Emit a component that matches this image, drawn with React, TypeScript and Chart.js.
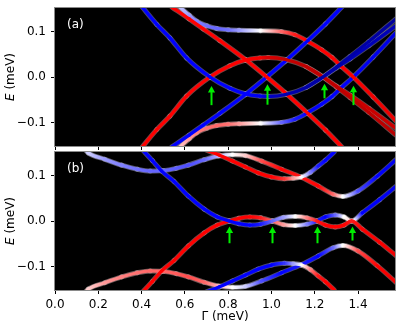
import React, { useEffect, useRef } from 'react';
import { Chart, registerables } from 'chart.js';

Chart.register(...registerables);

const FONT = "'DejaVu Sans', 'Liberation Sans', sans-serif";

// ---- axes ----
const X_RANGE = [0, 1.5708];
const E_RANGE = [-0.152, 0.152];
const xTickValues = [0, 0.2, 0.4, 0.6, 0.8, 1.0, 1.2, 1.4];
const eTickValues = [-0.1, 0.0, 0.1];

// ---- panel (a): values (x = Γ in meV, E in meV, c = polarisation -1 blue .. +1 red) ----
const aBlueArc_x = [0.40, 0.47, 0.531, 0.608, 0.716, 0.808, 0.878, 0.947, 0.985, 1.07, 1.16, 1.238, 1.30, 1.363, 1.45, 1.575];
const aBlueArc_E = [0.156, 0.116, 0.086, 0.042, 0.0, -0.025, -0.037, -0.042, -0.043, -0.038, -0.023, 0.0, 0.022, 0.045, 0.078, 0.128];
const aBlueArc_c = [-0.5, -0.5, -0.5, -0.5, -0.5, -0.5, -0.5, -0.55, -0.65, -0.72, -0.75, -0.75, -0.75, -0.75, -0.75, -0.78];

const aBlueTwin_x = [1.16, 1.238, 1.30, 1.363, 1.45, 1.575];
const aBlueTwin_E = [-0.023, 0.0, 0.020, 0.040, 0.069, 0.113];
const aBlueTwin_c = [-0.75, -0.75, -0.72, -0.7, -0.7, -0.7];

const aRedArc_x = [0.40, 0.47, 0.531, 0.608, 0.716, 0.808, 0.878, 0.947, 0.985, 1.07, 1.16, 1.238, 1.30, 1.363, 1.45, 1.575];
const aRedArc_E = [-0.156, -0.116, -0.086, -0.042, 0.0, 0.025, 0.037, 0.042, 0.043, 0.038, 0.023, 0.0, -0.022, -0.045, -0.078, -0.128];
const aRedArc_c = [0.5, 0.5, 0.5, 0.5, 0.5, 0.5, 0.5, 0.55, 0.65, 0.72, 0.75, 0.75, 0.75, 0.75, 0.75, 0.78];

const aRedTwin_x = [1.16, 1.238, 1.30, 1.363, 1.45, 1.575];
const aRedTwin_E = [0.023, 0.0, -0.020, -0.040, -0.069, -0.113];
const aRedTwin_c = [0.75, 0.75, 0.72, 0.7, 0.7, 0.7];

const aRedLine_x = [0.54, 0.62, 0.685, 0.762, 0.878, 0.978, 1.062, 1.17, 1.25, 1.325];
const aRedLine_E = [0.154, 0.128, 0.106, 0.080, 0.039, 0.0, -0.034, -0.081, -0.117, -0.154];
const aRedLine_c = [0.5, 0.5, 0.5, 0.5, 0.5, 0.5, 0.5, 0.5, 0.5, 0.5];

const aBlueLine_x = [0.54, 0.62, 0.685, 0.762, 0.878, 0.978, 1.062, 1.17, 1.25, 1.325];
const aBlueLine_E = [-0.154, -0.128, -0.106, -0.080, -0.039, 0.0, 0.034, 0.081, 0.117, 0.154];
const aBlueLine_c = [-0.5, -0.5, -0.5, -0.5, -0.5, -0.5, -0.5, -0.5, -0.5, -0.5];

const aUpperS_x = [0.57, 0.62, 0.654, 0.70, 0.747, 0.80, 0.85, 0.95, 1.047, 1.109, 1.170, 1.232, 1.28, 1.324, 1.378, 1.47, 1.575];
const aUpperS_E = [0.157, 0.136, 0.123, 0.113, 0.107, 0.104, 0.103, 0.102, 0.100, 0.093, 0.078, 0.060, 0.043, 0.023, 0.0, -0.044, -0.097];
const aUpperS_c = [-0.1, -0.2, -0.25, -0.28, -0.3, -0.28, -0.2, 0.0, 0.3, 0.45, 0.5, 0.5, 0.5, 0.5, 0.52, 0.55, 0.58];

const aLowerS_x = [0.57, 0.62, 0.654, 0.70, 0.747, 0.80, 0.85, 0.95, 1.047, 1.109, 1.170, 1.232, 1.28, 1.324, 1.378, 1.47, 1.575];
const aLowerS_E = [-0.157, -0.136, -0.123, -0.113, -0.107, -0.104, -0.103, -0.102, -0.100, -0.093, -0.078, -0.060, -0.043, -0.023, 0.0, 0.044, 0.097];
const aLowerS_c = [0.1, 0.2, 0.25, 0.28, 0.3, 0.28, 0.2, 0.0, -0.3, -0.45, -0.5, -0.5, -0.5, -0.5, -0.52, -0.55, -0.58];

const aArrow_x = [0.72, 0.978, 1.242, 1.375];
const aArrow_tip = [-0.020, -0.016, -0.015, -0.019];
const aArrow_tail = [-0.062, -0.061, -0.047, -0.062];

// ---- panel (b) ----
const bTop_x = [0.13, 0.154, 0.23, 0.308, 0.38, 0.44, 0.50, 0.56, 0.616, 0.69, 0.754, 0.82, 0.88, 0.955, 1.047, 1.14, 1.216, 1.285, 1.33, 1.40, 1.49, 1.575];
const bTop_E = [0.162, 0.150, 0.136, 0.123, 0.114, 0.110, 0.111, 0.116, 0.123, 0.135, 0.143, 0.146, 0.144, 0.132, 0.114, 0.096, 0.077, 0.059, 0.054, 0.066, 0.099, 0.135];
const bTop_c = [-0.1, -0.1, -0.2, -0.25, -0.28, -0.3, -0.3, -0.32, -0.35, -0.3, -0.15, 0.0, 0.1, 0.35, 0.5, 0.45, 0.5, 0.3, 0.0, -0.35, -0.5, -0.55];

const bBottom_x = [0.13, 0.154, 0.23, 0.308, 0.38, 0.44, 0.50, 0.56, 0.616, 0.69, 0.754, 0.82, 0.88, 0.955, 1.047, 1.14, 1.216, 1.285, 1.33, 1.40, 1.49, 1.575];
const bBottom_E = [-0.162, -0.150, -0.136, -0.123, -0.114, -0.110, -0.111, -0.116, -0.123, -0.135, -0.143, -0.146, -0.144, -0.132, -0.114, -0.096, -0.077, -0.059, -0.054, -0.066, -0.099, -0.135];
const bBottom_c = [0.1, 0.1, 0.2, 0.25, 0.28, 0.3, 0.3, 0.32, 0.35, 0.3, 0.15, 0.0, -0.1, -0.35, -0.5, -0.45, -0.5, -0.3, 0.0, 0.35, 0.5, 0.55];

const bCup_x = [0.70, 0.76, 0.82, 0.88, 0.939, 1.0, 1.06, 1.10, 1.14, 1.18, 1.216, 1.25, 1.29];
const bCup_E = [0.156, 0.145, 0.132, 0.119, 0.106, 0.097, 0.093, 0.094, 0.097, 0.107, 0.121, 0.134, 0.152];
const bCup_c = [0.5, 0.5, 0.5, 0.5, 0.5, 0.5, 0.4, 0.2, 0.0, -0.25, -0.45, -0.5, -0.5];

const bCap_x = [0.70, 0.76, 0.82, 0.88, 0.939, 1.0, 1.06, 1.10, 1.14, 1.18, 1.216, 1.25, 1.29];
const bCap_E = [-0.156, -0.145, -0.132, -0.119, -0.106, -0.097, -0.093, -0.094, -0.097, -0.107, -0.121, -0.134, -0.152];
const bCap_c = [-0.5, -0.5, -0.5, -0.5, -0.5, -0.5, -0.4, -0.2, 0.0, 0.25, 0.45, 0.5, 0.5];

const bMidA_x = [0.40, 0.45, 0.493, 0.55, 0.616, 0.69, 0.75, 0.805, 0.85, 0.90, 0.95, 1.004, 1.055, 1.11, 1.165, 1.21, 1.25, 1.295, 1.335, 1.37, 1.42, 1.50, 1.575];
const bMidA_E = [0.159, 0.133, 0.110, 0.087, 0.055, 0.026, 0.009, 0.0, -0.006, -0.009, -0.007, 0.0, 0.008, 0.010, 0.007, 0.0, -0.009, -0.013, -0.009, 0.0, -0.018, -0.047, -0.076];
const bMidA_c = [-0.5, -0.5, -0.5, -0.5, -0.5, -0.5, -0.5, -0.5, -0.5, -0.5, -0.45, -0.3, -0.2, 0.0, 0.25, 0.45, 0.5, 0.5, 0.5, 0.45, 0.5, 0.52, 0.55];

const bMidB_x = [0.40, 0.45, 0.493, 0.55, 0.616, 0.69, 0.75, 0.805, 0.85, 0.90, 0.95, 1.004, 1.055, 1.11, 1.165, 1.21, 1.25, 1.295, 1.335, 1.37, 1.42, 1.50, 1.575];
const bMidB_E = [-0.159, -0.133, -0.110, -0.087, -0.055, -0.026, -0.009, 0.0, 0.006, 0.009, 0.007, 0.0, -0.008, -0.010, -0.007, 0.0, 0.009, 0.013, 0.009, 0.0, 0.018, 0.047, 0.076];
const bMidB_c = [0.5, 0.5, 0.5, 0.5, 0.5, 0.5, 0.5, 0.5, 0.5, 0.5, 0.45, 0.3, 0.2, 0.0, -0.25, -0.45, -0.5, -0.3, 0.0, 0.1, -0.5, -0.52, -0.55];

const bArrow_x = [0.805, 1.004, 1.21, 1.37];
const bArrow_tip = [-0.012, -0.012, -0.012, -0.012];
const bArrow_tail = [-0.049, -0.049, -0.049, -0.043];

// ---- colour map (seismic-like) ----
function seismic(v: number): number[] {
  const t = Math.max(0, Math.min(1, (v + 1) / 2));
  if (t < 0.25) { const s = t / 0.25; return [0, 0, 255 * (0.3 + 0.7 * s)]; }
  if (t < 0.5) { const s = (t - 0.25) / 0.25; return [255 * s, 255 * s, 255]; }
  if (t < 0.75) { const s = (t - 0.5) / 0.25; return [255, 255 * (1 - s), 255 * (1 - s)]; }
  const s = (t - 0.75) / 0.25;
  return [255 * (1 - 0.5 * s), 0, 0];
}
function colorOf(v: number, lighten: number, alpha: number) {
  const [r, g, b] = seismic(v);
  const m = (c: number) => Math.round(c + (255 - c) * lighten);
  return `rgba(${m(r)},${m(g)},${m(b)},${alpha})`;
}
function segColor(cols: number[], lighten: number, alpha: number) {
  return (ctx: any) => {
    const c0 = cols[ctx.p0DataIndex];
    const c1 = cols[ctx.p1DataIndex];
    const g = ctx.chart.ctx.createLinearGradient(ctx.p0.x, ctx.p0.y, ctx.p1.x, ctx.p1.y);
    for (let k = 0; k <= 4; k++) {
      const f = k / 4;
      g.addColorStop(f, colorOf(c0 + (c1 - c0) * f, lighten, alpha));
    }
    return g;
  };
}

type Curve = { x: number[]; E: number[]; c: number[] };

function buildDatasets(curves: Curve[]) {
  const cores: any[] = [];
  const halos: any[] = [];
  curves.forEach((cv) => {
    const data = cv.x.map((x, i) => ({ x, y: cv.E[i] }));
    const common = {
      data,
      pointRadius: 0,
      fill: false,
      cubicInterpolationMode: 'monotone',
      borderCapStyle: 'round',
      clip: 0,
    };
    cores.push({ ...common, borderWidth: 3.3, borderColor: '#888', segment: { borderColor: segColor(cv.c, 0, 1) }, order: 0 });
    halos.push({ ...common, borderWidth: 5.0, borderColor: '#888', segment: { borderColor: segColor(cv.c, 0.6, 0.45) }, order: 1 });
  });
  return [...cores, ...halos];
}

const fmt = (v: number) => {
  const r = Math.round(v * 10) / 10;
  if (Math.abs(r) < 1e-9) return '0.0';
  return (r < 0 ? '\u2212' : '') + Math.abs(r).toFixed(1);
};

function decoPlugin(label: string, ax: number[], tip: number[], tail: number[], isBottom: boolean) {
  return {
    id: 'deco' + label,
    beforeDraw(chart: any) {
      const { ctx, chartArea: a } = chart;
      ctx.save();
      ctx.fillStyle = '#000';
      ctx.fillRect(a.left, a.top, a.right - a.left, a.bottom - a.top);
      ctx.restore();
    },
    afterDatasetsDraw(chart: any) {
      const { ctx, chartArea: a } = chart;
      const xs = chart.scales.x;
      const ys = chart.scales.y;
      ctx.save();
      ax.forEach((xv, i) => {
        const px = Math.round(xs.getPixelForValue(xv)) + 0.5;
        const pt = ys.getPixelForValue(tip[i]);
        const pb = ys.getPixelForValue(tail[i]);
        const hl = 6.5;
        const hw = 3.6;
        ctx.strokeStyle = '#00ee00';
        ctx.fillStyle = '#00ee00';
        ctx.lineWidth = 2;
        ctx.beginPath();
        ctx.moveTo(px, pb);
        ctx.lineTo(px, pt + hl - 0.5);
        ctx.stroke();
        ctx.beginPath();
        ctx.moveTo(px, pt);
        ctx.lineTo(px - hw, pt + hl);
        ctx.lineTo(px + hw, pt + hl);
        ctx.closePath();
        ctx.fill();
      });
      ctx.fillStyle = '#fff';
      ctx.font = `12px ${FONT}`;
      ctx.textAlign = 'left';
      ctx.textBaseline = 'middle';
      ctx.fillText(label, a.left + 12, a.top + 17);
      ctx.restore();
    },
    afterDraw(chart: any) {
      const { ctx, chartArea: a } = chart;
      ctx.save();
      ctx.strokeStyle = '#8a8a8a';
      ctx.lineWidth = 1;
      ctx.strokeRect(a.left - 0.5, a.top - 0.5, a.right - a.left + 1, a.bottom - a.top + 1);
      // y title: italic E + (meV)
      ctx.fillStyle = '#000';
      ctx.textBaseline = 'middle';
      ctx.translate(11, (a.top + a.bottom) / 2);
      ctx.rotate(-Math.PI / 2);
      ctx.font = `italic 12px ${FONT}`;
      const wE = ctx.measureText('E').width;
      ctx.font = `12px ${FONT}`;
      const wR = ctx.measureText(' (meV)').width;
      const x0 = -(wE + wR) / 2;
      ctx.textAlign = 'left';
      ctx.font = `italic 12px ${FONT}`;
      ctx.fillText('E', x0, 0);
      ctx.font = `12px ${FONT}`;
      ctx.fillText(' (meV)', x0 + wE, 0);
      ctx.restore();
      if (isBottom) {
        ctx.save();
        ctx.fillStyle = '#000';
        ctx.font = `12px ${FONT}`;
        ctx.textAlign = 'center';
        ctx.textBaseline = 'middle';
        ctx.fillText('\u0393 (meV)', (a.left + a.right) / 2, a.bottom + 27);
        ctx.restore();
      }
    },
  };
}

function makeConfig(isBottom: boolean): any {
  const curves: Curve[] = isBottom
    ? [
        { x: bMidA_x, E: bMidA_E, c: bMidA_c },
        { x: bMidB_x, E: bMidB_E, c: bMidB_c },
        { x: bCup_x, E: bCup_E, c: bCup_c },
        { x: bCap_x, E: bCap_E, c: bCap_c },
        { x: bTop_x, E: bTop_E, c: bTop_c },
        { x: bBottom_x, E: bBottom_E, c: bBottom_c },
      ]
    : [
        { x: aBlueArc_x, E: aBlueArc_E, c: aBlueArc_c },
        { x: aRedArc_x, E: aRedArc_E, c: aRedArc_c },
        { x: aBlueTwin_x, E: aBlueTwin_E, c: aBlueTwin_c },
        { x: aRedTwin_x, E: aRedTwin_E, c: aRedTwin_c },
        { x: aRedLine_x, E: aRedLine_E, c: aRedLine_c },
        { x: aBlueLine_x, E: aBlueLine_E, c: aBlueLine_c },
        { x: aUpperS_x, E: aUpperS_E, c: aUpperS_c },
        { x: aLowerS_x, E: aLowerS_E, c: aLowerS_c },
      ];
  const tickFont = { family: FONT, size: 12 };
  return {
    type: 'line',
    data: { datasets: buildDatasets(curves) },
    options: {
      animation: false,
      responsive: false,
      maintainAspectRatio: false,
      events: [],
      layout: { padding: { top: isBottom ? 2 : 8, right: 4, bottom: 0, left: 0 } },
      plugins: { legend: { display: false }, tooltip: { enabled: false } },
      scales: {
        x: {
          type: 'linear',
          min: X_RANGE[0],
          max: X_RANGE[1],
          afterBuildTicks: (s: any) => { s.ticks = xTickValues.map((v) => ({ value: v })); },
          afterFit: (s: any) => { s.height = isBottom ? 43 : 4; s.paddingLeft = 0; s.paddingRight = 0; },
          grid: { display: true, drawOnChartArea: false, drawTicks: true, tickLength: 4, tickColor: '#000', tickWidth: 1, color: '#000' },
          border: { display: false },
          ticks: { display: isBottom, color: '#000', font: tickFont, padding: 4, maxRotation: 0, minRotation: 0, autoSkip: false, callback: (v: number) => fmt(v) },
        },
        y: {
          type: 'linear',
          min: E_RANGE[0],
          max: E_RANGE[1],
          afterBuildTicks: (s: any) => { s.ticks = eTickValues.map((v) => ({ value: v })); },
          afterFit: (s: any) => { s.width = 55; s.paddingTop = 0; s.paddingBottom = 0; },
          grid: { display: true, drawOnChartArea: false, drawTicks: true, tickLength: 4, tickColor: '#000', tickWidth: 1, color: '#000' },
          border: { display: false },
          ticks: { color: '#000', font: tickFont, padding: 5, autoSkip: false, callback: (v: number) => fmt(v) },
        },
      },
    },
    plugins: [decoPlugin(isBottom ? '(b)' : '(a)', isBottom ? bArrow_x : aArrow_x, isBottom ? bArrow_tip : aArrow_tip, isBottom ? bArrow_tail : aArrow_tail, isBottom)],
  };
}

export default function App() {
  const refA = useRef<HTMLCanvasElement>(null);
  const refB = useRef<HTMLCanvasElement>(null);
  useEffect(() => {
    const ca = new Chart(refA.current as HTMLCanvasElement, makeConfig(false));
    const cb = new Chart(refB.current as HTMLCanvasElement, makeConfig(true));
    return () => { ca.destroy(); cb.destroy(); };
  }, []);
  return (
    <div style={{ position: 'absolute', left: 0, top: 0, width: 399, height: 333, background: '#fff' }}>
      <canvas ref={refA} width={399} height={150} style={{ position: 'absolute', left: 0, top: 0, width: 399, height: 150 }} />
      <canvas ref={refB} width={399} height={183} style={{ position: 'absolute', left: 0, top: 150, width: 399, height: 183 }} />
    </div>
  );
}
